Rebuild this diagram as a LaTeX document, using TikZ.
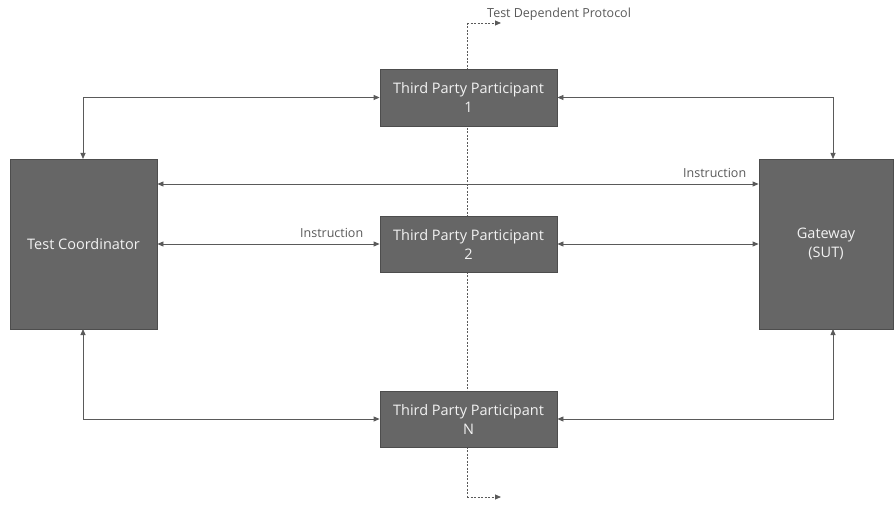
\documentclass[tikz,border=0pt]{standalone}
\usepackage{fontspec}
\setmainfont{Open Sans}
\usetikzlibrary{arrows.meta,calc}
\definecolor{boxfill}{HTML}{666666}
\definecolor{boxline}{HTML}{4D4D4D}
\definecolor{wire}{HTML}{5A5A5A}
\definecolor{boxtext}{HTML}{F2F2F2}
\definecolor{labeltext}{HTML}{595959}
\tikzset{
  block/.style={draw=boxline, fill=boxfill, line width=0.8pt, text=boxtext,
    font=\fontsize{14.5}{19}\selectfont, align=center, inner sep=0pt},
  flow/.style={draw=wire, line width=0.8pt, {Triangle[length=6pt,width=5pt]}-{Triangle[length=6pt,width=5pt]}},
  probe/.style={draw=wire, line width=0.8pt, dash pattern=on 2pt off 1.5pt, -{Triangle[length=6pt,width=5pt]}},
  lbl/.style={text=labeltext, font=\fontsize{12.5}{14}\selectfont, inner sep=0pt}
}
\begin{document}
\begin{tikzpicture}[x=1pt,y=-1pt]
\useasboundingbox (0,0) rectangle (894,505);

% protocol tap running behind the participants
\coordinate (ctop) at (467,23);
\coordinate (cbot) at (467,497);
\coordinate (ptop) at (501,23);
\coordinate (pbot) at (501,497);
\draw[probe] (ctop) -- (ptop);
\draw[probe] (cbot) -- (pbot);
\draw[draw=wire, line width=0.8pt, dash pattern=on 2pt off 1.5pt] (ctop) -- (cbot);
\node[lbl, anchor=west] (proto) at (487,14) {Test Dependent Protocol};

% main blocks
\node[block, minimum width=147pt, minimum height=170pt] (tc) at (83.5,244) {Test Coordinator};
\node[block, minimum width=134pt, minimum height=170pt] (gw) at (826,244) {Gateway\\(SUT)};
\node[block, minimum width=177pt, minimum height=57pt] (p1) at (468.5,97.5) {Third Party Participant\\1};
\node[block, minimum width=177pt, minimum height=56pt] (p2) at (468.5,244) {Third Party Participant\\2};
\node[block, minimum width=177pt, minimum height=56pt] (pn) at (468.5,419) {Third Party Participant\\N};

% corner points of the routed links
\coordinate (tcTop) at (83,159);
\coordinate (tcBot) at (83,329);
\coordinate (gwTop) at (833,159);
\coordinate (gwBot) at (833,329);

% links
\draw[flow] (tcTop) |- (p1.west);
\draw[flow] (p1.east) -| (gwTop);
\draw[flow] (tc.east |- 0,184) -- (gw.west |- 0,184)
  node[lbl, pos=1, anchor=south east, xshift=-12pt, yshift=6pt] (ins1) {Instruction};
\draw[flow] (tc.east) -- (p2.west)
  node[lbl, pos=1, anchor=south east, xshift=-16pt, yshift=6pt] (ins2) {Instruction};
\draw[flow] (p2.east) -- (gw.west);
\draw[flow] (tcBot) |- (pn.west);
\draw[flow] (pn.east) -| (gwBot);
\end{tikzpicture}
\end{document}
